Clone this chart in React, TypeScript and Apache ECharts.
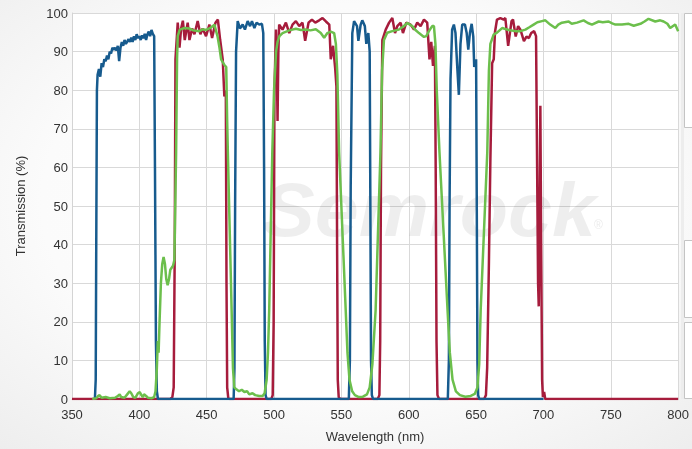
import React, { useEffect, useRef } from "react";
import * as echarts from "echarts";

const xTicks = [350, 800, 50];
const yTicks = [0, 100, 10];

const redSeries: number[][] = [
  [350, 0], [423, 0], [424.5, 0.5], [425.5, 3], [426.3, 40], [426.8, 88], [428.5, 97.5], [429.8, 91], [431, 96], [432.3, 98],
  [433.7, 93], [435.9, 97.5], [437.2, 93], [439.2, 96], [440.9, 94.5], [443.3, 97.9], [445.3, 94.5], [447, 96], [449.5, 94],
  [452, 97], [454, 93.5], [456.5, 97.5], [458.3, 98.3], [460, 93], [461.9, 88], [463.1, 78.4], [464.2, 80], [464.7, 30],
  [465.2, 3], [466, 0.3], [467, 0],
  [498, 0], [499, 1], [499.7, 20], [500.3, 80], [501.4, 95.7], [502.1, 85], [502.6, 72], [503.2, 90], [503.8, 97], [506.3, 95.7],
  [508.8, 97.5], [511.3, 94.8], [513.7, 97], [516.2, 97.9], [518.7, 96.6], [521.1, 97.5], [523.1, 92.8], [525.6, 97.5],
  [528.1, 98.3], [530.6, 97.5], [533.5, 98.1], [536, 98.7], [538.5, 97.8], [541, 97], [542.1, 88], [543.8, 91.5], [545.4, 85.6],
  [546.3, 81], [546.8, 40], [547.3, 5], [548, 0.5], [549, 0],
  [577, 0], [578.2, 1], [578.8, 15], [579.4, 60], [580.4, 93], [582.9, 95.7], [585.4, 97.5], [587.8, 98.7], [589.8, 94.8],
  [591.5, 96.6], [594, 97.5], [595.7, 94.8], [598.2, 97.5], [601.4, 97], [603.9, 95.7], [606.3, 97.5], [608.8, 96.6],
  [611.3, 98.3], [613.7, 97.5], [615.4, 88], [616.7, 92.5], [618, 86.3], [619.4, 91.5], [620, 60], [620.6, 15], [621.3, 1], [622.5, 0],
  [656, 0], [657.3, 1], [658.2, 8], [659.5, 35], [660.6, 62], [661.9, 87], [663.1, 88], [664, 95], [665.5, 98.3], [668, 98.7],
  [670.5, 98.3], [671.7, 98.7], [673.8, 91.5], [676.3, 97.9], [677.4, 98.3], [679.4, 93.9], [681.2, 96.6], [682.9, 95.7],
  [685.5, 92.7], [687.4, 93.9], [689.2, 93.5], [690.9, 94.8], [693.1, 95.3], [694.5, 94], [695.3, 60], [696, 30], [696.5, 24],
  [697.2, 50], [697.7, 76], [698.3, 40], [699, 5], [699.6, 0.5], [700.5, 1.8], [701.3, 0], [800, 0],
];

const blueSeries: number[][] = [
  [367, 0], [367.6, 5], [368, 40], [368.5, 80], [369, 84], [370, 85.5], [371, 83.5], [372, 87], [373, 86], [374, 88], [375, 87.5],
  [376, 89], [377, 88], [378, 90], [379, 89.5], [380, 91], [381, 90.5], [382, 91], [383, 90.3], [384, 91.5], [385, 87.5], [386, 91],
  [387, 92.5], [388, 91.5], [389, 93], [390, 92], [391, 92.6], [392, 93.2], [393, 92.5], [394, 93.6], [395, 92.5], [396, 94],
  [397, 93], [398, 94.5], [399, 93.5], [400, 94], [401, 93], [402, 94.2], [403, 93.5], [404, 94.6], [405, 93], [406, 94.5],
  [407, 95.2], [408, 94], [409, 95.6], [410, 94.6], [411, 94], [411.6, 60], [412.3, 15], [413, 2], [413.8, 0],
  [470, 0], [470.6, 8], [471.1, 50], [471.8, 90], [473, 97.9], [474.7, 96], [476.7, 97], [478.4, 95.7], [480.4, 97.9],
  [482.2, 96.6], [483.6, 97.9], [485.4, 96.1], [487, 97.5], [489, 97], [491, 97.2], [492, 94.8], [492.6, 60], [493.1, 15],
  [493.7, 1], [494.5, 0],
  [555.5, 0], [556.3, 10], [556.9, 55], [558.1, 94.8], [559.4, 97.9], [561.6, 96.6], [562.6, 92.8], [564.3, 97], [565.5, 98.1],
  [567.4, 96.6], [568.5, 92], [570, 94.8], [571, 90], [571.5, 50], [572, 10], [572.6, 1], [573.5, 0],
  [629, 0], [629.8, 10], [630.3, 50], [631, 82.8], [632.2, 95.7], [633.5, 97], [634.7, 94.8], [636, 86], [637.2, 78.8],
  [638.4, 92], [639.7, 97], [641.7, 97], [643, 94.8], [644.2, 90.5], [645.4, 94.8], [646.7, 97.2], [647.9, 93.9], [648.6, 86],
  [650, 88], [650.5, 50], [651, 10], [651.5, 1], [652.3, 0], [700, 0],
];

const greenSeries: number[][] = [
  [365, 0], [368, 0.2], [369.5, 0.8], [370.5, 1], [372, 0.3], [375, 0.5], [378, 0.2], [382, 0.3], [384, 0.8], [385.4, 1.2],
  [386.5, 0.5], [389, 0.3], [391, 1.2], [392.8, 2], [394, 1.5], [395.5, 0.5], [397, 0.3], [399, 1.5], [400.3, 1.8], [401.5, 1],
  [402.5, 0.5], [403.5, 1.2], [405, 0.8], [406.5, 0.3], [409, 0.2], [411, 0.5], [412, 2], [413, 8], [413.7, 15], [414.3, 12],
  [415, 20], [416, 30], [417, 35], [418, 36.8], [419, 35], [420, 31], [421, 29.5], [422, 31], [423, 33.5], [424, 34], [425, 34.5],
  [426, 36], [427.3, 64], [428, 88], [428.5, 94], [430, 95.7], [433.5, 96.1], [437, 96], [440, 95.5], [444.5, 95.3], [447, 95.8],
  [449.5, 95.6], [452, 96], [454.5, 96.6], [455.7, 97], [458, 94], [459.5, 91], [460.7, 88], [463, 86.6], [464.5, 86],
  [465.2, 72], [465.7, 64], [468.5, 23], [469.5, 8], [470.5, 3], [472, 2.5], [474, 2], [476, 2.4], [478, 1.8], [480, 2],
  [481.6, 1.2], [484, 1.5], [486, 1], [489, 0.8], [491.5, 0.8], [493, 1.5], [494.5, 5], [495.5, 12], [496.4, 23], [498.7, 64],
  [500, 80], [501.5, 90], [502.6, 92.5], [504, 94], [506.3, 94.8], [511.3, 95.5], [516.2, 95.9], [520, 95.6], [523.6, 95.7],
  [527, 95.5], [531, 95.8], [534.7, 94.8], [537.2, 93.6], [539.6, 94.8], [542.1, 95.2], [544.6, 94.8], [545.9, 92], [547, 84],
  [548.3, 64], [553.2, 23], [554.5, 12], [556, 5], [558, 2], [560, 1], [563, 0.5], [566, 0.6], [569, 1.2], [571, 3], [573, 9],
  [575.4, 23], [579, 64], [580.2, 85], [581.6, 93], [584, 94.9], [587.8, 95.3], [592.7, 95.7], [596, 96.5], [598.9, 97.4],
  [602.6, 96.6], [605, 95.6], [607.6, 94.8], [611.3, 93.8], [613, 94], [615, 95.3], [617.4, 96.6], [618.7, 96.6], [619.8, 92],
  [620.8, 80], [622.8, 64], [628.8, 23], [630.5, 12], [632.5, 5], [635, 2], [638, 1], [642, 0.6], [646, 0.8], [649, 1.3],
  [651, 3], [652.3, 9], [653.4, 23], [658.3, 64], [659.5, 85], [660.6, 92], [663, 94.4], [665.5, 94.9], [669.3, 96.1],
  [674.2, 95.6], [679.2, 95.3], [682.9, 95.3], [686.6, 95.7], [689.5, 96.3], [692.7, 97], [695.5, 97.6], [698.9, 97.9],
  [701.4, 98.1], [705, 97], [708.8, 96.1], [711, 97], [713.7, 97.5], [718.7, 97.8], [721, 97.2], [724.9, 97.5], [729.8, 98.1],
  [733, 97.4], [736, 97], [741, 97.8], [744, 97.6], [748.4, 97.8], [751, 97.3], [753.4, 97], [758.3, 97], [763.3, 97.2],
  [767, 96.7], [772, 97.2], [775, 97.8], [778, 98.5], [783, 97.8], [786.7, 98.1], [789.2, 97.8], [792, 97.2], [794.1, 96.1],
  [797.8, 97], [800, 95.3],
];

const xName = "Wavelength (nm)";
const yName = "Transmission (%)";
const FONT = 'Arial, "Liberation Sans", sans-serif';

export default function App() {
  const ref = useRef<HTMLDivElement>(null);
  useEffect(() => {
    if (!ref.current) return;
    const chart = echarts.init(ref.current, undefined, { renderer: "svg" });
    const line = (data: number[][], color: string) => ({
      type: "line",
      data,
      showSymbol: false,
      symbol: "none",
      smooth: false,
      lineStyle: { color, width: 2.5 },
      itemStyle: { color },
    });
    const rainbow = {
      type: "linear", x: 0, y: 0, x2: 1, y2: 0,
      colorStops: [
        { offset: 0, color: "#aaaaaa" },
        { offset: 0.4, color: "#9999ff" },
        { offset: 0.6, color: "#99dd99" },
        { offset: 0.8, color: "#ffdd66" },
        { offset: 1, color: "#ff7777" },
      ],
    };
    chart.setOption({
      animation: false,
      backgroundColor: {
        type: "radial",
        x: 0.5,
        y: 0.45,
        r: 0.8,
        colorStops: [
          { offset: 0, color: "#ffffff" },
          { offset: 0.55, color: "#fbfbfb" },
          { offset: 1, color: "#ebebeb" },
        ],
      },
      textStyle: { fontFamily: FONT },
      grid: {
        left: 72,
        right: 12,
        top: 13,
        bottom: 50,
        show: true,
        backgroundColor: "#ffffff",
        borderWidth: 0,
      },
      xAxis: {
        type: "value",
        min: xTicks[0],
        max: xTicks[1],
        interval: xTicks[2],
        name: xName,
        nameLocation: "middle",
        nameGap: 31,
        nameTextStyle: { fontSize: 13, color: "#333", fontFamily: FONT },
        axisLine: { show: true, lineStyle: { color: "#d4d4d4" } },
        axisTick: { show: false },
        axisLabel: { fontSize: 13, color: "#333", margin: 9, fontFamily: FONT },
        splitLine: { show: true, lineStyle: { color: "#d9d9d9", width: 1 } },
      },
      yAxis: {
        type: "value",
        min: yTicks[0],
        max: yTicks[1],
        interval: yTicks[2],
        name: yName,
        nameLocation: "middle",
        nameGap: 45,
        nameTextStyle: { fontSize: 13, color: "#333", fontFamily: FONT },
        axisLine: { show: true, lineStyle: { color: "#d4d4d4" } },
        axisTick: { show: false },
        axisLabel: { fontSize: 13, color: "#333", margin: 4, fontFamily: FONT },
        splitLine: { show: true, lineStyle: { color: "#d9d9d9", width: 1 } },
      },
      graphic: [
        {
          type: "line",
          z: 1,
          shape: { x1: 250, y1: 183, x2: 555, y2: 183 },
          style: { lineWidth: 2, opacity: 0.16, stroke: rainbow },
        },
        {
          type: "line",
          z: 1,
          shape: { x1: 240, y1: 188, x2: 550, y2: 188 },
          style: { lineWidth: 2, opacity: 0.13, stroke: rainbow },
        },
        {
          type: "text",
          z: 1,
          x: 262,
          y: 210,
          scaleX: 1.04,
          style: {
            text: "Semrock",
            font: 'italic bold 76px Arial, "Liberation Sans", sans-serif',
            fill: "rgba(0,0,0,0.065)",
            verticalAlign: "middle",
            align: "left",
          },
        },
        {
          type: "text",
          z: 1,
          x: 594,
          y: 225,
          style: {
            text: "®",
            font: '12px Arial, "Liberation Sans", sans-serif',
            fill: "rgba(0,0,0,0.09)",
            verticalAlign: "middle",
          },
        },
        { type: "rect", z: 1, shape: { x: 681, y: 13, width: 3, height: 386 }, style: { fill: "#ededed" } },
        { type: "rect", z: 1, shape: { x: 684.5, y: 13.5, width: 20, height: 114 }, style: { fill: "#ffffff", stroke: "#c4c4c4", lineWidth: 1 } },
        { type: "rect", z: 1, shape: { x: 684.5, y: 240.5, width: 20, height: 77 }, style: { fill: "#ffffff", stroke: "#c4c4c4", lineWidth: 1 } },
        { type: "rect", z: 1, shape: { x: 684.5, y: 322.5, width: 20, height: 76 }, style: { fill: "#ffffff", stroke: "#c4c4c4", lineWidth: 1 } },
      ],
      series: [
        line(redSeries, "#a61c3c"),
        line(blueSeries, "#175b8e"),
        line(greenSeries, "#6cbf4c"),
      ],
    });
    return () => chart.dispose();
  }, []);
  return (
    <div
      ref={ref}
      style={{ position: "fixed", left: 0, top: 0, width: 692, height: 449 }}
    />
  );
}
